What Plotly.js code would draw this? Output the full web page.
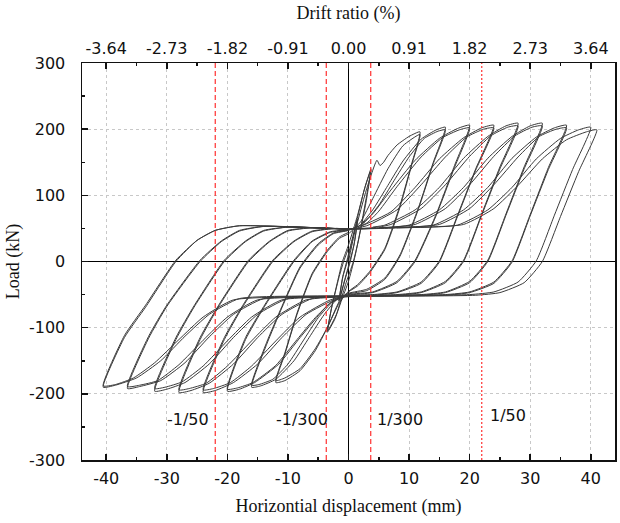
<!DOCTYPE html>
<html><head><meta charset="utf-8">
<script src="https://cdn.plot.ly/plotly-3.0.1.min.js"></script>
<style>html,body{margin:0;padding:0;background:#fff}#chart{width:620px;height:523px}</style>
</head><body><div id="chart"></div>
<script>
// ---- data ----
const xTickVals = [-40,-30,-20,-10,0,10,20,30,40];
const xTickText = ["-40","-30","-20","-10","0","10","20","30","40"];
const driftTickText = ["-3.64","-2.73","-1.82","-0.91","0.00","0.91","1.82","2.73","3.64"];
const yTickVals = [-300,-200,-100,0,100,200,300];
const yTickText = ["-300","-200","-100","0","100","200","300"];
const limitLines = [-22, -3.67, 3.67, 22];
const limitDash = ["5px,3px","5px,3px","5px,3px","2px,2px"];
const limitLabels = ["-1/50","-1/300","1/300","1/50"];
const labelX = [-26.5, -7.7, 8.5, 26.3];
const labelY = [-239, -239, -239, -233];
const yRange = [-300, 300];
const xRange = [-44, 44];

const dispPre = [0,0.8,1.5,1.0,0.3,-0.5,-1.5,-1.0,-0.3,0.5,1.5,0.9,0.2,-0.7,-1.6,-0.9,-0.2,1.2,2.5,3.7,3.0,1.8,1.0,0,-1.2,-2.3,-3.5,-2.9,-1.8,-1.0,0,1.5,2.8,3.7,2.9,1.6,0.8,-0.5,-2.0,-3.4,-2.8,-1.6,-0.8,0];
const loadPre = [0,35,62,30,0,-25,-58,-25,0,30,64,25,0,-30,-60,-22,0,55,105,140,100,40,5,-30,-60,-88,-107,-75,-30,0,25,70,115,138,90,30,0,-35,-80,-104,-70,-25,0,20];

const disp12 = [1.5,3,4.7,5.2,5.8,6.5,8,10,11.8,10.5,8.5,6,3.5,1.5,0,-1.5,-3.5,-5.5,-8,-10.5,-12,-10.5,-8.5,-6,-3.5,-1.5,0,2,4,6.5,9,11.8,10.5,8.5,6,3.5,1.5,0,-1.5,-3.5,-5.5,-8,-10.5,-12,-10.5,-8.5,-6,-3.5,-1.5,0];
const load12 = [60,110,153,145,150,160,176,189,196,150,85,20,-15,-35,-45,-60,-100,-135,-165,-180,-183,-140,-80,-20,15,35,42,60,95,140,175,192,148,82,18,-17,-37,-46,-62,-100,-132,-162,-176,-180,-138,-78,-18,17,37,44];

const disp16 = [2,4,6.5,9,12,14.5,16,14,11.5,8.5,6,3,0,-2,-4,-6.5,-9,-12,-14.5,-16,-13.5,-11,-8,-5,-2.5,0,2.5,5,7.5,10,12.5,14.8,16,14,11.5,8.5,6,3,0,-2.5,-5,-7.5,-10,-12.5,-14.8,-16,-13.5,-11,-8,-5,-2.5,0];
const load16 = [55,78,115,152,185,199,203,150,80,10,-25,-42,-48,-58,-80,-115,-150,-178,-188,-190,-125,-70,-10,25,42,47,58,85,122,158,186,197,199,148,78,8,-27,-44,-49,-60,-85,-120,-155,-178,-186,-187,-122,-68,-8,27,43,47];

const disp20 = [2,4,7,11,15,18,20,17.5,14.5,11,8,4,0,-3,-5,-8,-11.5,-15.5,-18,-20,-17,-14,-9,-6,-3,0,3,5,8,12,15.5,18.3,20,17.5,14.5,11,8,4,0,-3,-5.5,-8.5,-12,-15.8,-18.3,-20,-17,-14,-9,-6,-3,0];
const load20 = [55,72,108,153,186,201,206,145,72,2,-30,-46,-50,-62,-82,-115,-155,-183,-193,-196,-118,-70,0,30,44,48,58,76,113,158,187,199,202,142,70,0,-32,-47,-51,-63,-85,-118,-157,-183,-191,-193,-115,-68,2,31,45,48];

const disp24 = [2,7,11,15,19,22,24,21,18,15,12,8,4,0,-2,-7,-11,-15,-19,-22,-24,-20.5,-17.5,-12.5,-9,-6,-2,0,3,8,12,16,19.5,22.3,24,21,18,15,12,8,4,0,-3,-8,-12,-16,-19.5,-22.3,-24,-20.5,-17.5,-12.5,-9,-6,-2,0];
const load24 = [53,75,112,155,187,202,206,140,70,1,-31,-46,-50,-51,-56,-80,-115,-155,-183,-195,-198,-118,-69,0,30,45,50,49,54,78,116,158,188,200,202,138,68,-1,-33,-47,-51,-52,-58,-84,-120,-158,-183,-192,-194,-115,-67,2,31,46,50,49];

const disp28 = [4,6,11,15,19,23,26,28,25,22,19,16,12,8,0,-6,-11,-15,-19,-23,-26,-28,-24.5,-21.5,-16.5,-13,-10,-6,0,5,7,12,16,20,23.5,26.3,28,25,22,19,16,12,8,0,-7,-12,-16,-20,-23.5,-26.3,-28,-24.5,-21.5,-16.5,-13,-10,-6,0];
const load28 = [52,55,78,112,156,189,205,209,143,72,2,-30,-46,-50,-52,-56,-80,-115,-155,-184,-195,-198,-118,-69,0,30,46,51,49,52,56,80,116,159,190,203,205,140,70,0,-32,-47,-51,-53,-58,-84,-120,-158,-184,-192,-194,-115,-67,2,31,47,51,49];

const disp32 = [5,10,15,19,23,27,30,32,29,26,23,20,16,12,0,-10,-15,-19,-23,-27,-30,-32,-28.5,-25.5,-20.5,-17,-14,-10,0,6,11,16,20,24,27.5,30.3,32,29,26,23,20,16,12,0,-11,-16,-20,-24,-27.5,-30.3,-32,-28.5,-25.5,-20.5,-17,-14,-10,0];
const load32 = [51,55,78,112,156,189,205,209,143,72,2,-30,-46,-50,-52,-56,-80,-115,-155,-183,-193,-196,-118,-69,0,30,46,52,49,51,56,80,116,159,190,203,205,140,70,0,-32,-47,-51,-53,-58,-84,-120,-158,-182,-190,-192,-115,-67,2,31,47,52,49];

const disp36 = [6,14,19,23,27,31,34,36,33,30,27,24,20,16,0,-14,-19,-23,-27,-31,-34.5,-36.5,-33,-30,-24.5,-21,-18,-14,0,7,15,20,24,28,31.5,34.3,36,33,30,27,24,20,16,0,-15,-20,-24,-28,-31.5,-34.5,-36.5,-33,-30,-24.5,-21,-18,-14,0];
const load36 = [51,55,78,112,156,188,202,206,142,71,1,-31,-46,-50,-52,-56,-80,-114,-153,-180,-189,-192,-116,-68,0,30,46,53,49,51,56,80,116,158,189,200,202,139,69,-1,-33,-47,-51,-53,-58,-84,-119,-156,-180,-187,-189,-113,-66,2,31,47,53,49];

const disp40 = [8,18,23,27,31,35,38,40,37,34,31,28,24,20,0,-18,-23,-27,-31,-35,-38.5,-40.5,-37,-33.5,-28.5,-25,-22,-18,0,9,19,24,28,32,36,39.3,41,38,35,32,29,25,21,0,-19,-24,-28,-32,-35.5,-38.5,-40.5,-37,-33.5,-28.5,-25,-22,-18,0];
const load40 = [51,55,78,112,155,186,199,203,139,70,1,-31,-46,-50,-52,-56,-80,-113,-150,-176,-187,-190,-115,-69,0,32,47,54,49,51,56,80,115,155,184,196,199,136,68,0,-32,-47,-51,-53,-58,-84,-118,-153,-176,-186,-188,-112,-66,2,32,47,54,49];

const levels = [
  [dispPre, loadPre], [disp12, load12], [disp16, load16], [disp20, load20],
  [disp24, load24], [disp28, load28], [disp32, load32], [disp36, load36], [disp40, load40]
];

// ---- traces ----
const traces = [];
levels.forEach(function (lv) {
  traces.push({
    type: 'scatter', mode: 'lines', x: lv[0], y: lv[1],
    line: {color: '#3a3a3a', width: 1, shape: 'spline', smoothing: 0.5},
    hoverinfo: 'skip', showlegend: false, xaxis: 'x', yaxis: 'y'
  });
});
limitLines.forEach(function (v, i) {
  traces.push({
    type: 'scatter', mode: 'lines', x: [v, v], y: yRange,
    line: {color: '#ff3030', width: 1.2, dash: limitDash[i]},
    hoverinfo: 'skip', showlegend: false, xaxis: 'x2', yaxis: 'y'
  });
});

const tickFont = {family: 'DejaVu Sans, Arial, sans-serif', size: 16, color: '#111'};
const titleFont = {family: 'Liberation Serif, Times New Roman, serif', size: 18, color: '#111'};

const layout = {
  width: 620, height: 523,
  margin: {l: 82, r: 5, t: 63, b: 63},
  paper_bgcolor: '#fff', plot_bgcolor: '#fff',
  showlegend: false,
  title: {text: 'Drift ratio (%)', font: titleFont, xref: 'paper', x: 0.5, xanchor: 'center',
          yref: 'container', y: 0.975, yanchor: 'middle'},
  xaxis: {
    range: xRange, tickvals: xTickVals, ticktext: xTickText,
    ticks: 'inside', ticklen: 6, tickwidth: 1.5, tickcolor: '#111', ticklabelstandoff: 3,
    showline: true, linecolor: '#111', linewidth: 1.5,
    showgrid: true, gridcolor: '#c8c8c8', griddash: 'dot', gridwidth: 1,
    zeroline: true, zerolinecolor: '#000', zerolinewidth: 1.5,
    minor: {dtick: 5, tick0: 0, ticks: 'inside', ticklen: 3, tickwidth: 1.5, tickcolor: '#111', showgrid: false},
    tickfont: tickFont,
    title: {text: 'Horizontial displacement (mm)', font: titleFont, standoff: 12}
  },
  xaxis2: {
    overlaying: 'x', side: 'top', range: xRange, tickvals: xTickVals, ticktext: driftTickText,
    ticks: 'inside', ticklen: 6, tickwidth: 1.5, tickcolor: '#111', ticklabelstandoff: 1,
    showline: true, linecolor: '#111', linewidth: 1.5,
    showgrid: false, zeroline: false,
    minor: {dtick: 5, tick0: 0, ticks: 'inside', ticklen: 3, tickwidth: 1.5, tickcolor: '#111', showgrid: false},
    tickfont: tickFont
  },
  yaxis: {
    range: yRange, tickvals: yTickVals, ticktext: yTickText,
    ticks: 'inside', ticklen: 6, tickwidth: 1.5, tickcolor: '#111', ticklabelstandoff: 12,
    showline: true, mirror: true, linecolor: '#111', linewidth: 1.5,
    showgrid: true, gridcolor: '#c8c8c8', griddash: 'dot', gridwidth: 1,
    zeroline: true, zerolinecolor: '#000', zerolinewidth: 1.5,
    minor: {dtick: 50, tick0: 0, ticks: 'inside', ticklen: 3, tickwidth: 1.5, tickcolor: '#111', showgrid: false},
    tickfont: tickFont,
    title: {text: 'Load (kN)', font: titleFont, standoff: 4}
  },
  annotations: limitLabels.map(function (t, i) {
    return {text: t, x: labelX[i], y: labelY[i], xref: 'x', yref: 'y', showarrow: false,
            font: {family: 'DejaVu Sans, Arial, sans-serif', size: 16, color: '#111'}};
  })
};

Plotly.newPlot('chart', traces, layout, {staticPlot: true, displayModeBar: false});
</script>
</body></html>
